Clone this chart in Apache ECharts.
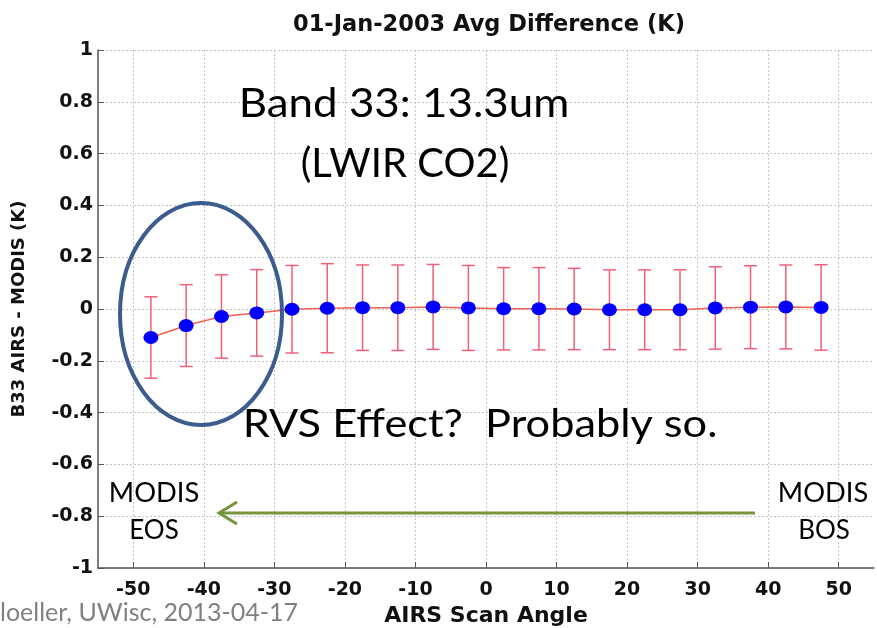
<!DOCTYPE html>
<html>
<head>
<meta charset="utf-8">
<script src="https://cdn.jsdelivr.net/npm/echarts@6/dist/echarts.min.js"></script>
<style>
html,body{margin:0;padding:0;background:#fff;}
#chart{width:877px;height:628px;}
</style>
</head>
<body>
<div id="chart"></div>
<script>
// ---- data ----
var scanAngles = [-47.5, -42.5, -37.5, -32.5, -27.5, -22.5, -17.5, -12.5, -7.5, -2.5,
                  2.5, 7.5, 12.5, 17.5, 22.5, 27.5, 32.5, 37.5, 42.5, 47.5];
var meanDiff = [-0.110, -0.064, -0.029, -0.015, -0.001, 0.003, 0.005, 0.005, 0.008, 0.004,
                0.001, 0.001, 0.000, -0.003, -0.003, -0.003, 0.004, 0.007, 0.008, 0.006];
var stdDiff = [0.157, 0.158, 0.161, 0.167, 0.169, 0.172, 0.165, 0.165, 0.164, 0.164,
               0.159, 0.159, 0.157, 0.154, 0.154, 0.154, 0.159, 0.160, 0.162, 0.165];
var xTicks = [-50, -40, -30, -20, -10, 0, 10, 20, 30, 40, 50];

var chart = echarts.init(document.getElementById('chart'));

var lineData = scanAngles.map(function (a, i) { return [a, meanDiff[i]]; });
var errData = scanAngles.map(function (a, i) { return [a, meanDiff[i] - stdDiff[i], meanDiff[i] + stdDiff[i]]; });

var errColor = '#F0607A';
var axisFont = '"DejaVu Sans", Arial, sans-serif';
var noteFont = 'Lato, sans-serif';

function note(text, x, y, size, sx, color) {
  return {
    type: 'text', z: 10, x: x, y: y, scaleX: sx || 1, scaleY: 1,
    style: { text: text, x: 0, y: 0, textAlign: 'center', textVerticalAlign: 'middle',
             fontFamily: noteFont, fontSize: size, fill: color || '#000' }
  };
}

var option = {
  backgroundColor: '#ffffff',
  animation: false,
  title: {
    text: '01-Jan-2003 Avg Difference (K)',
    left: 484, top: 9, textAlign: 'center',
    textStyle: { fontFamily: axisFont, fontWeight: 'bold', fontSize: 22.5, color: '#111' }
  },
  grid: { left: 98, right: 3, top: 50, bottom: 60, containLabel: false, outerBoundsMode: 'none' },
  xAxis: {
    type: 'value', min: -55, max: 55,
    name: 'AIRS Scan Angle', nameLocation: 'middle', nameGap: 37,
    nameTextStyle: { fontFamily: axisFont, fontWeight: 'bold', fontSize: 22, color: '#111' },
    axisLine: { show: true, onZero: false, lineStyle: { color: '#555', width: 1.5 } },
    axisTick: { show: true, inside: true, length: 6, customValues: xTicks, lineStyle: { color: '#555' } },
    axisLabel: { customValues: xTicks, margin: 13, fontFamily: axisFont, fontWeight: 'bold', fontSize: 19, color: '#111' },
    splitLine: { show: true, lineStyle: { color: '#c4c4c4', type: [2, 2], width: 1 } }
  },
  yAxis: {
    type: 'value', min: -1, max: 1, interval: 0.2,
    name: 'B33 AIRS - MODIS (K)', nameLocation: 'middle', nameGap: 70,
    nameTextStyle: { fontFamily: axisFont, fontWeight: 'bold', fontSize: 18, color: '#111' },
    axisLine: { show: true, onZero: false, lineStyle: { color: '#555', width: 1.5 } },
    axisTick: { show: true, inside: true, length: 6, lineStyle: { color: '#555' } },
    axisLabel: {
      margin: 5, fontFamily: axisFont, fontWeight: 'bold', fontSize: 19, color: '#111',
      formatter: function (v) { return String(Math.round(v * 10) / 10); }
    },
    splitLine: { show: true, lineStyle: { color: '#c4c4c4', type: [2, 2], width: 1 } }
  },
  series: [
    {
      type: 'custom',
      data: errData,
      z: 2,
      renderItem: function (params, api) {
        var x = api.value(0);
        var lo = api.coord([x, api.value(1)]);
        var hi = api.coord([x, api.value(2)]);
        var hw = 6.5;
        var st = { stroke: errColor, lineWidth: 1.5 };
        return {
          type: 'group',
          children: [
            { type: 'line', shape: { x1: lo[0], y1: lo[1], x2: hi[0], y2: hi[1] }, style: st },
            { type: 'line', shape: { x1: lo[0] - hw, y1: lo[1], x2: lo[0] + hw, y2: lo[1] }, style: st },
            { type: 'line', shape: { x1: hi[0] - hw, y1: hi[1], x2: hi[0] + hw, y2: hi[1] }, style: st }
          ]
        };
      }
    },
    {
      type: 'line',
      data: lineData,
      z: 3,
      symbol: 'circle',
      symbolSize: [15, 13],
      lineStyle: { color: '#F2604E', width: 1.5 },
      itemStyle: { color: '#0000FF', borderWidth: 0 }
    }
  ],
  graphic: [
    { type: 'ellipse', shape: { cx: 201, cy: 314, rx: 81, ry: 111 },
      style: { fill: null, stroke: '#3B5C8C', lineWidth: 4 }, z: 10 },
    { type: 'line', shape: { x1: 220, y1: 513, x2: 755, y2: 513 }, style: { stroke: '#77933C', lineWidth: 3 }, z: 10 },
    { type: 'polyline', shape: { points: [[237, 502], [219, 513], [237, 524]] },
      style: { fill: null, stroke: '#77933C', lineWidth: 3 }, z: 10 },
    note('Band 33: 13.3um', 404, 104, 40, 1.097),
    note('(LWIR CO2)', 405, 164, 40, 1),
    note('RVS Effect?  Probably so.', 480, 425, 38, 1.14),
    note('MODIS', 154, 494, 26, 1.05),
    note('EOS', 154, 531, 26, 1),
    note('MODIS', 823, 494, 26, 1.05),
    note('BOS', 824, 531, 26, 1),
    { type: 'text', z: 10, x: 0, y: 613,
      style: { text: 'loeller, UWisc, 2013-04-17', x: 0, y: 0, textAlign: 'left', textVerticalAlign: 'middle',
               fontFamily: noteFont, fontSize: 25, fill: '#808080' } }
  ]
};
chart.setOption(option);
</script>
</body>
</html>
